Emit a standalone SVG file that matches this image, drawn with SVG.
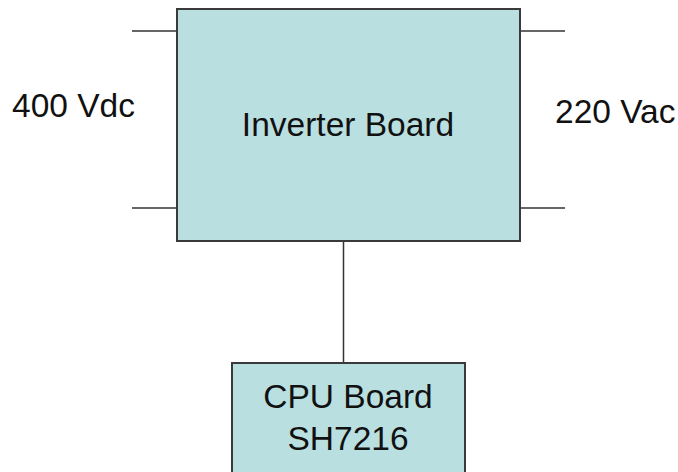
<svg xmlns="http://www.w3.org/2000/svg" width="678" height="472" viewBox="0 0 678 472">
<style>
.box{fill:#badfe1;stroke:#3a3a3a;stroke-width:2}
.ln{stroke:#333;stroke-width:1.5;fill:none}
.t{font-family:"Liberation Sans",Arial,sans-serif;font-size:33.5px;fill:#111}
</style>
<rect width="678" height="472" fill="#fff"/>
<g id="connectors">
<line class="ln" x1="132" y1="31" x2="177" y2="31"/>
<line class="ln" x1="132" y1="208" x2="177" y2="208"/>
<line class="ln" x1="520" y1="31" x2="565" y2="31"/>
<line class="ln" x1="520" y1="208" x2="565" y2="208"/>
<line class="ln" x1="343.5" y1="241" x2="343.5" y2="363"/>
</g>
<g id="inverter">
<rect class="box" x="177" y="9" width="343" height="232"/>
<text class="t" x="348" y="136" text-anchor="middle">Inverter Board</text>
</g>
<g id="cpu">
<rect class="box" x="232" y="363" width="233" height="120"/>
<text class="t" x="348" y="408" text-anchor="middle">CPU Board</text>
<text class="t" x="348" y="450" text-anchor="middle">SH7216</text>
</g>
<g id="vdc"><text class="t" x="12" y="117">400 Vdc</text></g>
<g id="vac"><text class="t" x="555" y="123">220 Vac</text></g>
</svg>
